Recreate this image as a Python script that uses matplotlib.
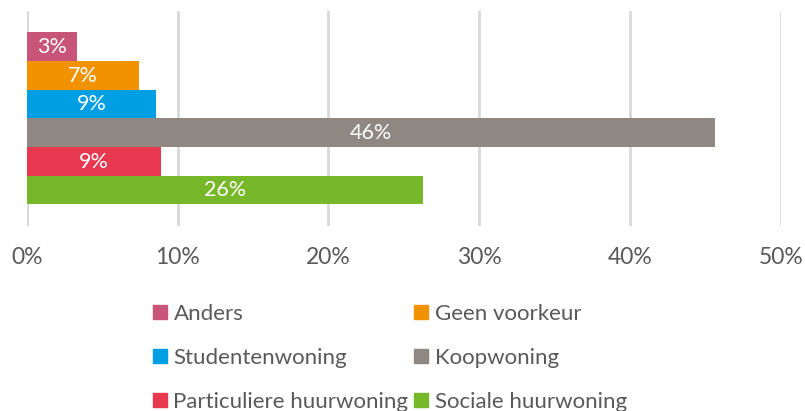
import matplotlib.pyplot as plt
from matplotlib.patches import Patch

# data (percent)
categories = ["Anders", "Geen voorkeur", "Studentenwoning", "Koopwoning",
              "Particuliere huurwoning", "Sociale huurwoning"]
values = [3.35, 7.42, 8.57, 45.6, 8.9, 26.3]
labels = ["3%", "7%", "9%", "46%", "9%", "26%"]
colors = ["#C9547A", "#F39200", "#009FE3", "#8F8781", "#E8384F", "#76B82A"]
xticks = [0, 10, 20, 30, 40, 50]

plt.rcParams["font.family"] = ["Lato", "DejaVu Sans"]
text_grey = "#595959"

fig = plt.figure(figsize=(8.05, 4.11), dpi=100)
ax = fig.add_axes([26.7 / 805, 1 - 226 / 411, (781 - 26.7) / 805, 215 / 411])

n = len(categories)
ypos = [n - 1 - i for i in range(n)]
bars = ax.barh(ypos, values, height=1.0, color=colors, zorder=2)

for b, lab in zip(bars, labels):
    ax.text(b.get_x() + b.get_width() / 2, b.get_y() + b.get_height() / 2, lab,
            ha="center", va="center", color="white", fontsize=15.5, zorder=3)

ax.set_xlim(0, 50)
ax.set_ylim(-1.25, n - 1 + 1.25)
ax.set_xticks(xticks)
ax.set_xticklabels([f"{t}%" for t in xticks], fontsize=16.5, color=text_grey)
ax.set_yticks([])
ax.tick_params(axis="x", length=0, pad=15)
ax.grid(axis="x", color="#D9D9D9", linewidth=2, zorder=0)
for s in ax.spines.values():
    s.set_visible(False)

# legend, row-major order like the original
order = [0, 2, 4, 1, 3, 5]
handles = [Patch(color=colors[i], label=categories[i]) for i in order]
leg = fig.legend(handles=handles, ncol=2, loc="upper left",
                 bbox_to_anchor=(153 / 805, 1 - 304 / 411), frameon=False,
                 fontsize=16, handlelength=0.62, handleheight=0.62,
                 handletextpad=0.3, columnspacing=0.27, labelspacing=1.08,
                 borderaxespad=0, borderpad=0)
for t in leg.get_texts():
    t.set_color(text_grey)

fig.savefig("out.png", dpi=100)
